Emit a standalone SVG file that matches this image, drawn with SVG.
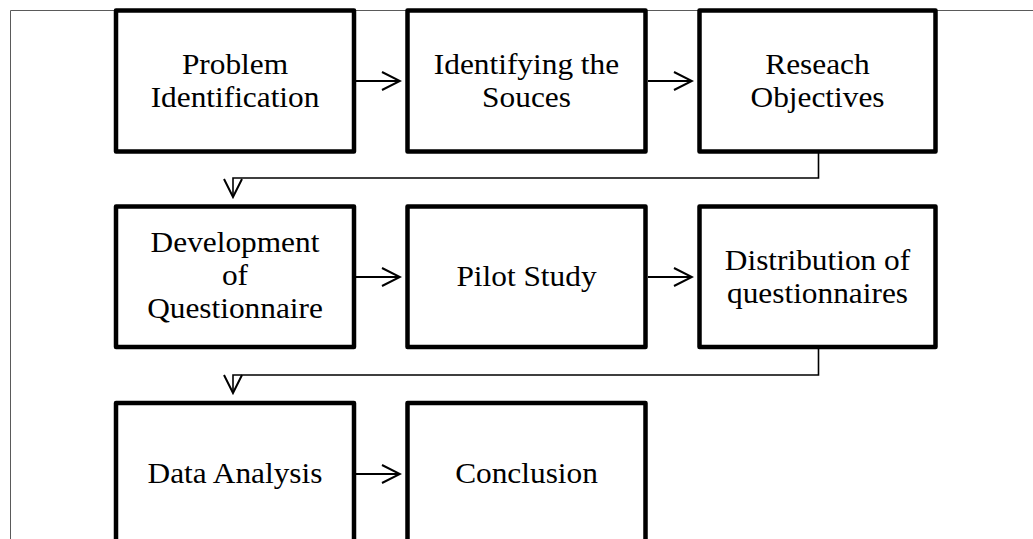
<svg xmlns="http://www.w3.org/2000/svg" width="1033" height="539" viewBox="0 0 1033 539">
  <style>
    .box { fill: #ffffff; stroke: #000000; stroke-width: 4.5; stroke-linejoin: round; }
    .lbl { font-family: "Liberation Serif", "Times New Roman", serif; font-size: 28.5px; fill: #000000; text-anchor: middle; }
    .arr { fill: none; stroke: #000000; stroke-width: 2; marker-end: url(#head); }
    .elb { fill: none; stroke: #000000; stroke-width: 1.6; marker-end: url(#head); }
    .frame { fill: none; stroke: #5a5a5a; stroke-width: 1; }
  </style>
  <defs>
    <marker id="head" markerUnits="userSpaceOnUse" markerWidth="22" markerHeight="22" refX="18" refY="9" orient="auto" viewBox="-2 -2 22 22">
      <path d="M0,0 L18,9 L0,18" fill="none" stroke="#000000" stroke-width="2"/>
    </marker>
  </defs>
  <rect width="1033" height="539" fill="#ffffff"/>
  <path class="frame" d="M10.5,539 L10.5,10.5 L1033,10.5"/>

  <g id="connectors">
    <path class="arr" d="M356,81 L400,81"/>
    <path class="arr" d="M648,81 L692,81"/>
    <path class="elb" d="M818.5,153 L818.5,178 L233,178 L233,197"/>
    <path class="arr" d="M356,277 L400,277"/>
    <path class="arr" d="M648,277 L692,277"/>
    <path class="elb" d="M818.5,349 L818.5,375 L233,375 L233,393"/>
    <path class="arr" d="M356,474 L400,474"/>
  </g>

  <g id="n1">
    <rect class="box" x="116" y="10.5" width="238" height="141"/>
    <text class="lbl" transform="translate(235,0) scale(1.1,1)"><tspan x="0" y="74">Problem</tspan><tspan x="0" y="107">Identification</tspan></text>
  </g>
  <g id="n2">
    <rect class="box" x="407.5" y="10.5" width="238" height="141"/>
    <text class="lbl" transform="translate(526.5,0) scale(1.1,1)"><tspan x="0" y="74">Identifying the</tspan><tspan x="0" y="107">Souces</tspan></text>
  </g>
  <g id="n3">
    <rect class="box" x="699.5" y="10.5" width="236" height="141"/>
    <text class="lbl" transform="translate(817.5,0) scale(1.1,1)"><tspan x="0" y="74">Reseach</tspan><tspan x="0" y="107">Objectives</tspan></text>
  </g>
  <g id="n4">
    <rect class="box" x="116" y="206.5" width="238" height="140.5"/>
    <text class="lbl" transform="translate(235,0) scale(1.1,1)"><tspan x="0" y="252">Development</tspan><tspan x="0" y="285">of</tspan><tspan x="0" y="318">Questionnaire</tspan></text>
  </g>
  <g id="n5">
    <rect class="box" x="407.5" y="206.5" width="238" height="140.5"/>
    <text class="lbl" transform="translate(526.5,0) scale(1.1,1)"><tspan x="0" y="286">Pilot Study</tspan></text>
  </g>
  <g id="n6">
    <rect class="box" x="699.5" y="206.5" width="236" height="140.5"/>
    <text class="lbl" transform="translate(817.5,0) scale(1.1,1)"><tspan x="0" y="270">Distribution of</tspan><tspan x="0" y="303">questionnaires</tspan></text>
  </g>
  <g id="n7">
    <rect class="box" x="116" y="403" width="238" height="141"/>
    <text class="lbl" transform="translate(235,0) scale(1.1,1)"><tspan x="0" y="483">Data Analysis</tspan></text>
  </g>
  <g id="n8">
    <rect class="box" x="407.5" y="403" width="238" height="141"/>
    <text class="lbl" transform="translate(526.5,0) scale(1.1,1)"><tspan x="0" y="483">Conclusion</tspan></text>
  </g>
</svg>
